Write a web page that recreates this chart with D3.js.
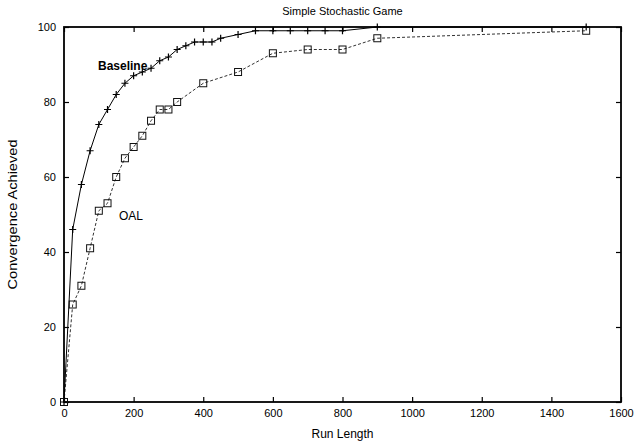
<!DOCTYPE html>
<html>
<head>
<meta charset="utf-8">
<script src="https://cdn.jsdelivr.net/npm/d3@7"></script>
<style>
  html, body { margin: 0; padding: 0; background: #fff; }
  svg text { font-family: "Liberation Sans", Arial, Helvetica, sans-serif; fill: #000; }
</style>
</head>
<body>
<div id="chart"></div>
<script>
// values
const baselineX = [0, 25, 50, 75, 100, 125, 150, 175, 200, 225, 250, 275, 300, 325, 350, 375, 400, 425, 450, 500, 550, 600, 650, 700, 750, 800, 900, 1500];
const baselineY = [0, 46, 58, 67, 74, 78, 82, 85, 87, 88, 89, 91, 92, 94, 95, 96, 96, 96, 97, 98, 99, 99, 99, 99, 99, 99, 100, 100];
const oalX = [0, 25, 50, 75, 100, 125, 150, 175, 200, 225, 250, 275, 300, 325, 400, 500, 600, 700, 800, 900, 1500];
const oalY = [0, 26, 31, 41, 51, 53, 60, 65, 68, 71, 75, 78, 78, 80, 85, 88, 93, 94, 94, 97, 99];
const xTicks = [0, 200, 400, 600, 800, 1000, 1200, 1400, 1600];
const yTicks = [0, 20, 40, 60, 80, 100];

const W = 637, H = 445;
const m = { left: 64, right: 16, top: 27, bottom: 43 };

const svg = d3.select("#chart").append("svg")
  .attr("width", W).attr("height", H);

const x = d3.scaleLinear().domain([0, 1600]).range([m.left, W - m.right]);
const y = d3.scaleLinear().domain([0, 100]).range([H - m.bottom, m.top]);

const tk = 5; // tick length, drawn inward (gnuplot style, mirrored)
const fmt = d3.format("d");

// axes
const axB = svg.append("g").attr("transform", `translate(0,${y(0)})`)
  .call(d3.axisBottom(x).tickValues(xTicks).tickFormat(fmt).tickSizeInner(-tk).tickSizeOuter(0).tickPadding(7));
const axT = svg.append("g").attr("transform", `translate(0,${y(100)})`)
  .call(d3.axisTop(x).tickValues(xTicks).tickSizeInner(-tk).tickSizeOuter(0).tickFormat(""));
const axL = svg.append("g").attr("transform", `translate(${x(0)},0)`)
  .call(d3.axisLeft(y).tickValues(yTicks).tickFormat(fmt).tickSizeInner(-tk).tickSizeOuter(0).tickPadding(8));
const axR = svg.append("g").attr("transform", `translate(${x(1600)},0)`)
  .call(d3.axisRight(y).tickValues(yTicks).tickSizeInner(-tk).tickSizeOuter(0).tickFormat(""));

[axB, axT, axL, axR].forEach(a => {
  a.select(".domain").remove();
  a.selectAll(".tick line").attr("stroke", "#000").attr("stroke-width", 1.2);
  a.selectAll("text").attr("font-size", 11).attr("fill", "#000")
    .style("font-family", "'Liberation Sans', Arial, sans-serif");
});

// frame
svg.append("rect")
  .attr("x", x(0)).attr("y", y(100))
  .attr("width", x(1600) - x(0)).attr("height", y(0) - y(100))
  .attr("fill", "none").attr("stroke", "#000").attr("stroke-width", 1.8);

const line = d3.line().x(d => x(d[0])).y(d => y(d[1]));
const baseline = baselineX.map((v, i) => [v, baselineY[i]]);
const oal = oalX.map((v, i) => [v, oalY[i]]);

// OAL: dashed, square markers
svg.append("path").datum(oal)
  .attr("d", line).attr("fill", "none")
  .attr("stroke", "#333").attr("stroke-width", 1).attr("stroke-dasharray", "3,2");
svg.append("g").selectAll("rect").data(oal).join("rect")
  .attr("x", d => x(d[0]) - 3.5).attr("y", d => y(d[1]) - 3.5)
  .attr("width", 7).attr("height", 7)
  .attr("fill", "none").attr("stroke", "#111").attr("stroke-width", 1);

// Baseline: solid, plus markers
svg.append("path").datum(baseline)
  .attr("d", line).attr("fill", "none")
  .attr("stroke", "#000").attr("stroke-width", 1);
svg.append("g").selectAll("path").data(baseline).join("path")
  .attr("d", d => {
    const px = x(d[0]), py = y(d[1]);
    return `M${px - 3.5},${py}H${px + 3.5}M${px},${py - 3.5}V${py + 3.5}`;
  })
  .attr("stroke", "#000").attr("stroke-width", 1.2);

// series labels
svg.append("text").attr("x", 98).attr("y", 70)
  .attr("font-size", 12).attr("font-weight", "bold").text("Baseline");
svg.append("text").attr("x", 119).attr("y", 220)
  .attr("font-size", 12).attr("fill", "#333").text("OAL");

// titles
svg.append("text").attr("x", (x(0) + x(1600)) / 2).attr("y", 15)
  .attr("text-anchor", "middle").attr("font-size", 11).text("Simple Stochastic Game");
svg.append("text").attr("x", (x(0) + x(1600)) / 2).attr("y", 438)
  .attr("text-anchor", "middle").attr("font-size", 12).text("Run Length");
svg.append("text")
  .attr("transform", `translate(17,${(y(0) + y(100)) / 2}) rotate(-90)`)
  .attr("text-anchor", "middle").attr("font-size", 12)
  .attr("textLength", 150).attr("lengthAdjust", "spacingAndGlyphs")
  .text("Convergence Achieved");
</script>
</body>
</html>
